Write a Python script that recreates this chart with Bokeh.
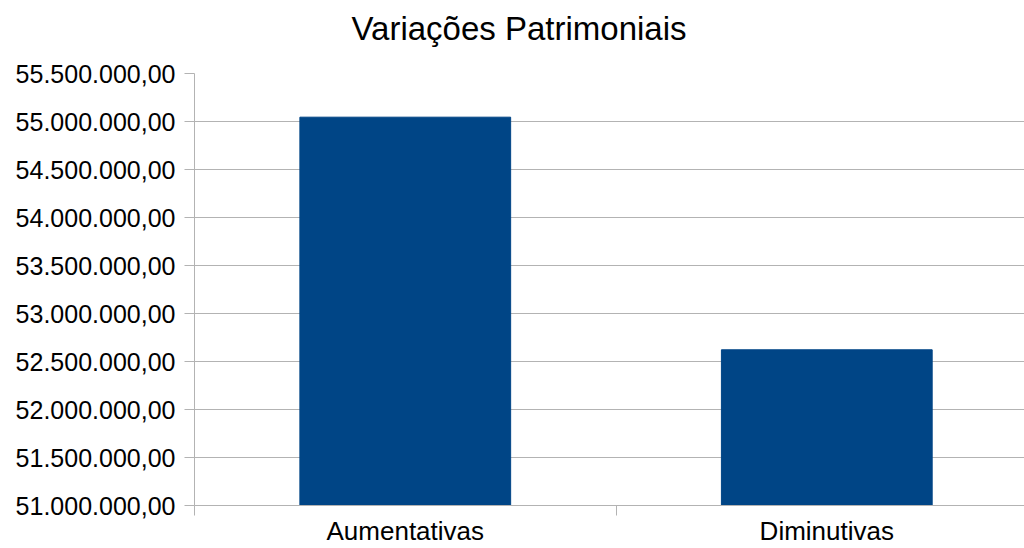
from bokeh.plotting import figure
from bokeh.models import Range1d, FixedTicker, Title
from bokeh.embed import file_html
from bokeh.resources import INLINE

categories = ["Aumentativas", "Diminutivas"]
values = [55045000, 52622000]
y_ticks = [51000000 + 500000 * i for i in range(10)]


def fmt(v):
    s = f"{v:,.2f}"
    return s.replace(",", "X").replace(".", ",").replace("X", ".")


y_labels = {t: fmt(t) for t in y_ticks}

FONT = "Liberation Sans"
GRID = "#b3b3b3"
BAR = "#004586"

xpos = [i + 0.5 for i in range(len(categories))]

p = figure(width=1024, height=548, output_backend="svg", toolbar_location=None,
           x_range=Range1d(0, 1.969), y_range=Range1d(51000000, 55500000),
           min_border_left=194, min_border_right=0, min_border_top=73, min_border_bottom=43)

p.vbar(x=xpos, top=values, bottom=51000000, width=0.5, fill_color=BAR, line_color=BAR)

# small spacer between plot area and title
p.add_layout(Title(text=" ", text_font_size="10px", standoff=14), "above")

p.title.text = "Variações Patrimoniais"
p.title.text_font = FONT
p.title.text_font_size = "33px"
p.title.text_font_style = "normal"
p.title.text_color = "#000000"
p.title.align = "left"
p.title.offset = 157
p.title.standoff = 0

p.outline_line_color = None
p.background_fill_color = "white"
p.border_fill_color = "white"

# x axis: labels at category centres, tick marks at category boundaries
p.xaxis.ticker = FixedTicker(ticks=xpos, minor_ticks=[0, 1, 2])
p.xaxis.major_label_overrides = {x: c for x, c in zip(xpos, categories)}
p.xaxis.major_label_text_font = FONT
p.xaxis.major_label_text_font_size = "26px"
p.xaxis.major_label_text_color = "#000000"
p.xaxis.major_label_standoff = 0
p.xaxis.major_tick_out = 0
p.xaxis.major_tick_in = 0
p.xaxis.minor_tick_out = 10
p.xaxis.minor_tick_in = 0
p.xaxis.minor_tick_line_color = GRID
p.xaxis.axis_line_color = GRID
p.xgrid.grid_line_color = None

# y axis
p.yaxis.ticker = FixedTicker(ticks=y_ticks, minor_ticks=[])
p.yaxis.major_label_overrides = y_labels
p.yaxis.major_tick_out = 10
p.yaxis.major_tick_in = 0
p.yaxis.major_tick_line_color = GRID
p.yaxis.minor_tick_line_color = None
p.yaxis.axis_line_color = GRID
p.yaxis.major_label_text_font = FONT
p.yaxis.major_label_text_font_size = "25px"
p.yaxis.major_label_text_color = "#000000"
p.yaxis.major_label_standoff = 9
p.ygrid.grid_line_color = GRID
p.ygrid.grid_line_width = 1

open("out.html", "w").write(file_html(p, INLINE))
